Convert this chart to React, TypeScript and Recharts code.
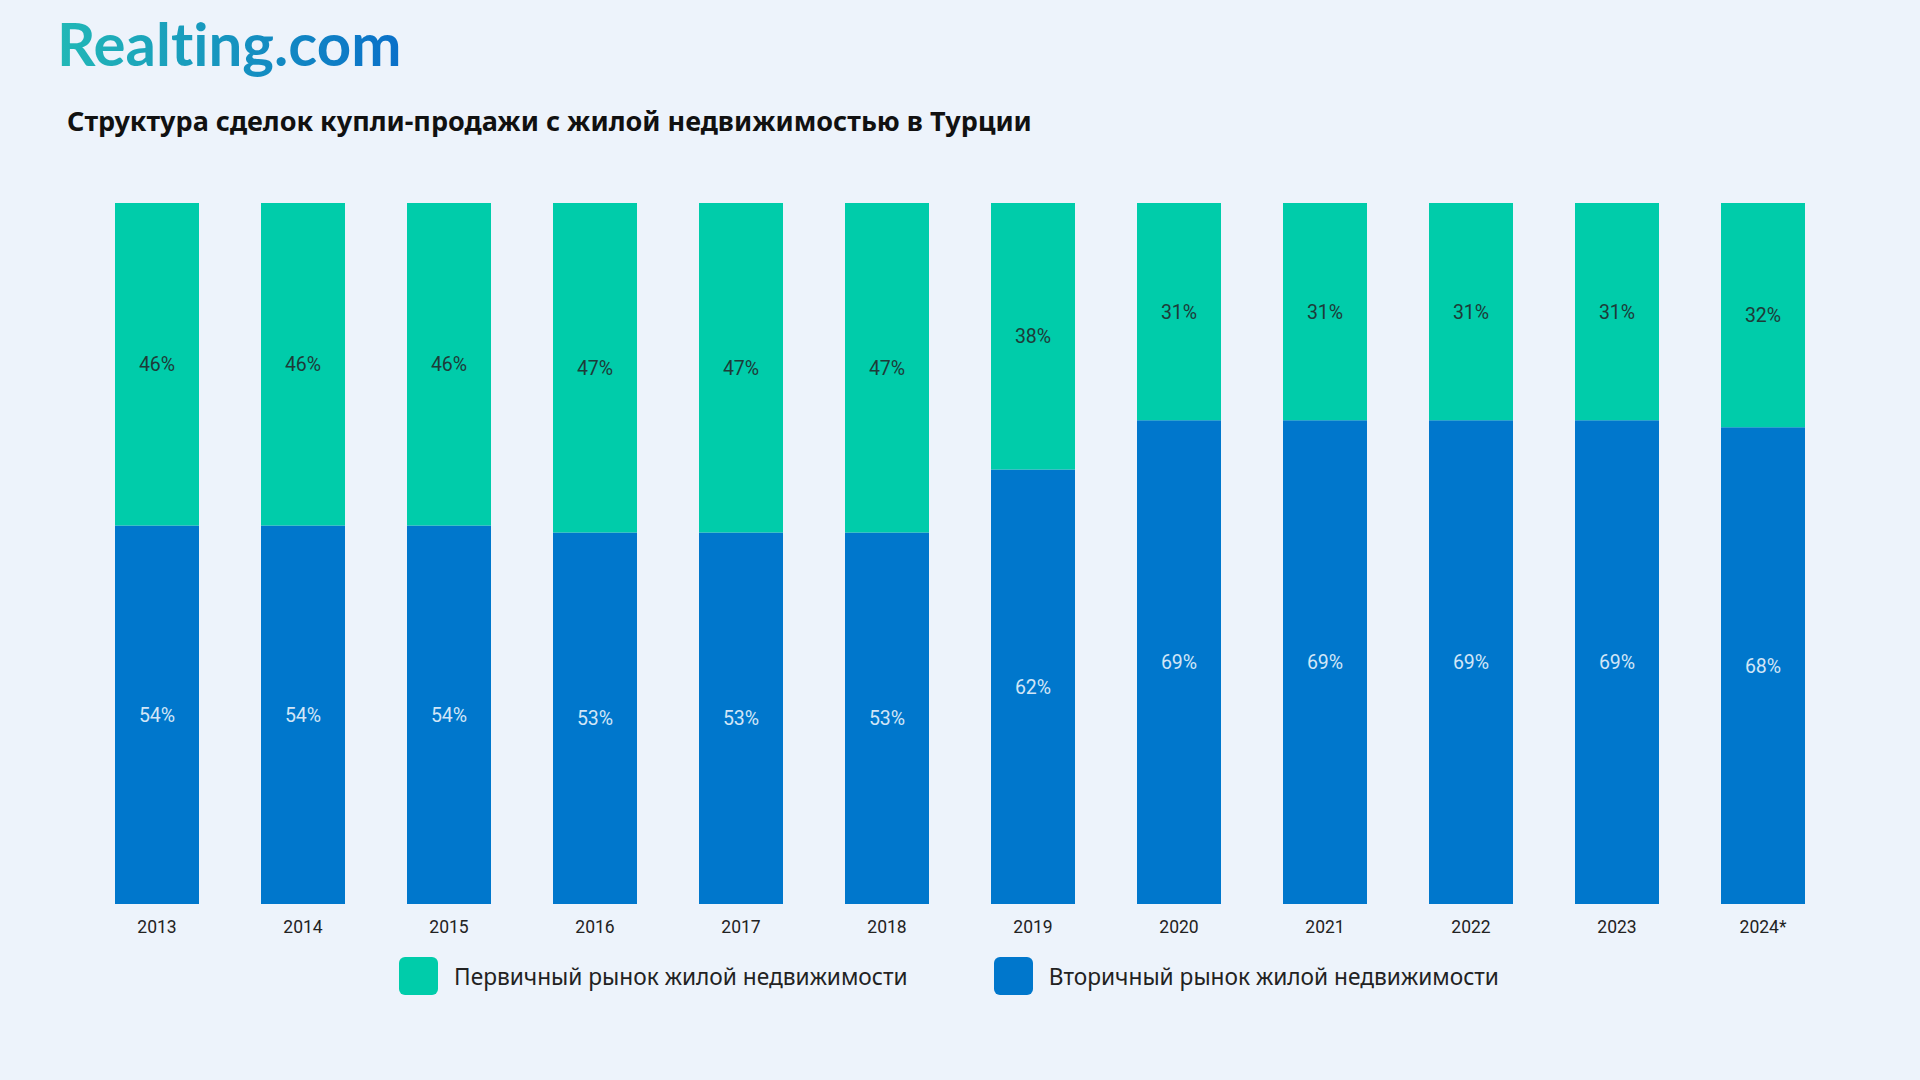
import React from 'react';
import { BarChart, Bar, XAxis, YAxis, Legend, LabelList } from 'recharts';

const years = ['2013', '2014', '2015', '2016', '2017', '2018', '2019', '2020', '2021', '2022', '2023', '2024*'];
const primaryShare = [46, 46, 46, 47, 47, 47, 38, 31, 31, 31, 31, 32];
const secondaryShare = [54, 54, 54, 53, 53, 53, 62, 69, 69, 69, 69, 68];

const PRIMARY = '#00CCAA';
const SECONDARY = '#0077CC';
const BG = '#EDF3FB';

const data = years.map((year, i) => ({
  year,
  primary: primaryShare[i],
  secondary: secondaryShare[i],
}));

const legendItems = [
  { label: 'Первичный рынок жилой недвижимости', color: PRIMARY },
  { label: 'Вторичный рынок жилой недвижимости', color: SECONDARY },
];

const ChartLegend = () => (
  <div style={{ display: 'flex', alignItems: 'center', paddingLeft: 399 }}>
    {legendItems.map((item, i) => (
      <div key={item.label} style={{ display: 'flex', alignItems: 'center', marginRight: i === 0 ? 86 : 0 }}>
        <div style={{ width: 39, height: 38, borderRadius: 6, background: item.color, marginRight: 16 }} />
        <span style={{ fontFamily: '"Noto Sans", sans-serif', fontSize: 22.7, color: '#222', whiteSpace: 'nowrap' }}>
          {item.label}
        </span>
      </div>
    ))}
  </div>
);

const pct = (v: any) => `${v}%`;

export default function App() {
  return (
    <div style={{ position: 'absolute', left: 0, top: 0, width: 1920, height: 1080, background: BG, overflow: 'hidden' }}>
      <div
        style={{
          position: 'absolute',
          left: 57,
          top: 3,
          fontFamily: 'Lato, sans-serif',
          fontWeight: 700,
          fontSize: 60,
          lineHeight: '80px',
          fontVariantLigatures: 'none',
          background: 'linear-gradient(90deg, #22B8B6 0%, #0A70C9 100%)',
          WebkitBackgroundClip: 'text',
          backgroundClip: 'text',
          color: 'transparent',
        }}
      >
        Realting.com
      </div>
      <div
        style={{
          position: 'absolute',
          left: 67,
          top: 103,
          fontFamily: '"Noto Sans", sans-serif',
          fontWeight: 700,
          fontSize: 27,
          lineHeight: '36px',
          color: '#111',
          whiteSpace: 'nowrap',
        }}
      >
        Структура сделок купли-продажи с жилой недвижимостью в Турции
      </div>
      <div style={{ position: 'absolute', left: 0, top: 0 }}>
        <BarChart
          width={1920}
          height={1080}
          data={data}
          margin={{ top: 203, right: 84, bottom: 136, left: 84 }}
        >
          <XAxis
            dataKey="year"
            axisLine={false}
            tickLine={false}
            height={40}
            tickMargin={11}
            tick={{ fill: '#222', fontSize: 17.5, fontFamily: 'Roboto, sans-serif' }}
            interval={0}
          />
          <YAxis hide domain={[0, 100]} />
          <Legend
            layout="horizontal"
            verticalAlign="middle"
            align="center"
            wrapperStyle={{ top: 957, left: 0, width: 1920 }}
            content={() => <ChartLegend />}
          />
          <Bar dataKey="secondary" stackId="a" fill={SECONDARY} barSize={84} isAnimationActive={false}>
            <LabelList
              dataKey="secondary"
              position="center"
              formatter={pct}
              fill="#D2E6F7"
              fontSize={19.5}
              fontFamily="Roboto, sans-serif"
            />
          </Bar>
          <Bar dataKey="primary" stackId="a" fill={PRIMARY} barSize={84} isAnimationActive={false}>
            <LabelList
              dataKey="primary"
              position="center"
              formatter={pct}
              fill="#1E3B38"
              fontSize={19.5}
              fontFamily="Roboto, sans-serif"
            />
          </Bar>
        </BarChart>
      </div>
    </div>
  );
}
